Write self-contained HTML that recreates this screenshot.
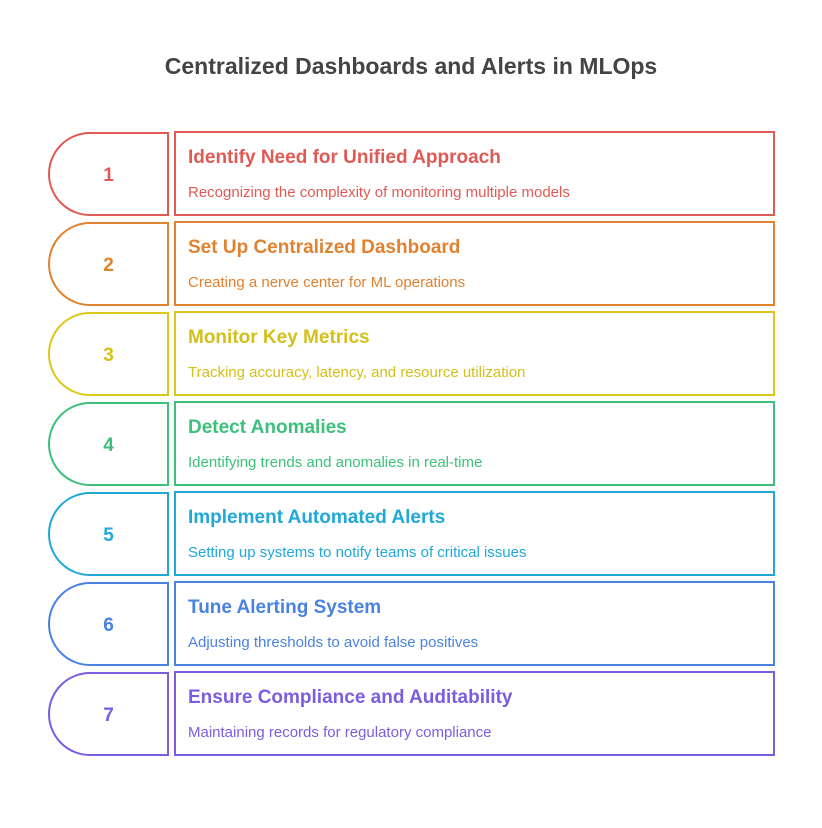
<!DOCTYPE html>
<html><head><meta charset="utf-8"><style>
body{margin:0;width:822px;height:828px;background:#fff;font-family:"Liberation Sans",sans-serif;position:relative;overflow:hidden}
.t{position:absolute;top:53px;left:0;width:822px;text-align:center;font-size:23px;font-weight:bold;color:#444}
.l{position:absolute;left:48px;width:121px;height:82px;border:2px solid;border-radius:42px 0 0 42px;box-sizing:border-box;display:flex;align-items:center;justify-content:center;font-size:19px;font-weight:bold;padding-top:4px}
.b{position:absolute;left:174px;width:601px;height:85px;border:2px solid;box-sizing:border-box}
.h{position:absolute;left:12px;top:14px;font-size:19px;font-weight:bold;white-space:nowrap}
.s{position:absolute;left:12px;top:51px;font-size:15px;white-space:nowrap}
</style></head><body>
<div class="t">Centralized Dashboards and Alerts in MLOps</div>
<div class="l" style="top:132px;height:84px;border-color:#e05a55;color:#e05a55">1</div>
<div class="b" style="top:131px;border-color:#e05a55;color:#e05a55"><div class="h">Identify Need for Unified Approach</div><div class="s">Recognizing the complexity of monitoring multiple models</div></div>
<div class="l" style="top:222px;height:84px;border-color:#e0822f;color:#e0822f">2</div>
<div class="b" style="top:221px;border-color:#e0822f;color:#e0822f"><div class="h">Set Up Centralized Dashboard</div><div class="s">Creating a nerve center for ML operations</div></div>
<div class="l" style="top:312px;height:84px;border-color:#dcc81c;color:#d4c01a">3</div>
<div class="b" style="top:311px;border-color:#dcc81c;color:#d4c01a"><div class="h">Monitor Key Metrics</div><div class="s">Tracking accuracy, latency, and resource utilization</div></div>
<div class="l" style="top:402px;height:84px;border-color:#3cc07c;color:#3cc07c">4</div>
<div class="b" style="top:401px;border-color:#3cc07c;color:#3cc07c"><div class="h">Detect Anomalies</div><div class="s">Identifying trends and anomalies in real-time</div></div>
<div class="l" style="top:492px;height:84px;border-color:#1fa8d8;color:#1fa8d8">5</div>
<div class="b" style="top:491px;border-color:#1fa8d8;color:#1fa8d8"><div class="h">Implement Automated Alerts</div><div class="s">Setting up systems to notify teams of critical issues</div></div>
<div class="l" style="top:582px;height:84px;border-color:#4a82e2;color:#4a82e2">6</div>
<div class="b" style="top:581px;border-color:#4a82e2;color:#4a82e2"><div class="h">Tune Alerting System</div><div class="s">Adjusting thresholds to avoid false positives</div></div>
<div class="l" style="top:672px;height:84px;border-color:#7b5ce2;color:#7b5ce2">7</div>
<div class="b" style="top:671px;border-color:#7b5ce2;color:#7b5ce2"><div class="h">Ensure Compliance and Auditability</div><div class="s">Maintaining records for regulatory compliance</div></div>
</body></html>
